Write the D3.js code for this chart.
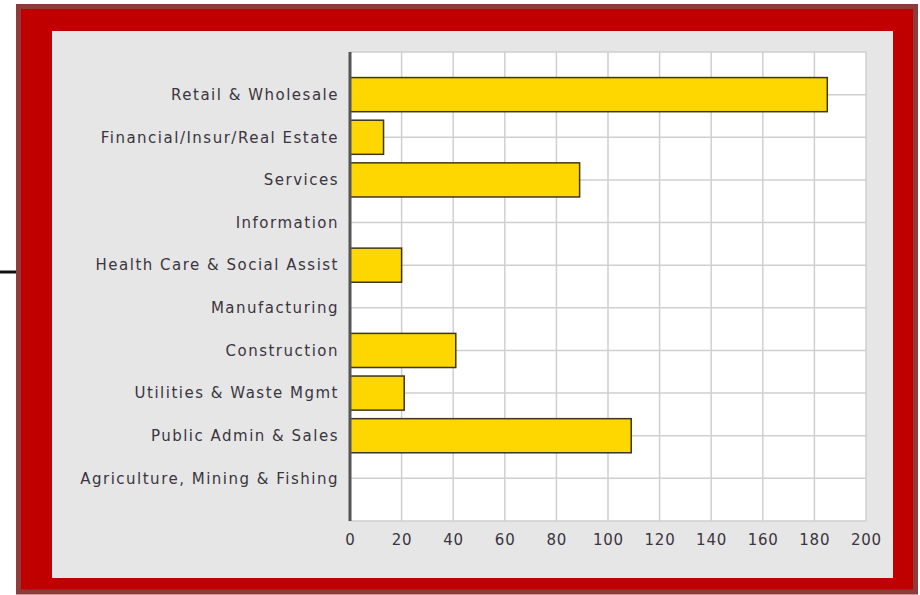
<!DOCTYPE html>
<html>
<head>
<meta charset="utf-8">
<script src="https://cdn.jsdelivr.net/npm/d3@7"></script>
<style>
  body { margin: 0; background: #fff; }
  text { font-family: "DejaVu Sans", Verdana, sans-serif; }
</style>
</head>
<body>
<script>
// data
const categories = [
  "Retail & Wholesale",
  "Financial/Insur/Real Estate",
  "Services",
  "Information",
  "Health Care & Social Assist",
  "Manufacturing",
  "Construction",
  "Utilities & Waste Mgmt",
  "Public Admin & Sales",
  "Agriculture, Mining & Fishing"
];
const values = [185, 13, 89, 0, 20, 0, 41, 21, 109, 0];
const xTicks = [0, 20, 40, 60, 80, 100, 120, 140, 160, 180, 200];

const width = 920, height = 595;
const plot = {left: 350, right: 866, top: 52, bottom: 521};

const svg = d3.select("body")
  .append("svg")
    .attr("width", width)
    .attr("height", height);

// frame
svg.append("line")
    .attr("x1", 0).attr("x2", 17)
    .attr("y1", 272).attr("y2", 272)
    .attr("stroke", "#111")
    .attr("stroke-width", 3);
svg.append("rect")
    .attr("x", 18.5).attr("y", 6.5)
    .attr("width", 897).attr("height", 585.5)
    .attr("fill", "#c00000")
    .attr("stroke", "#8e3b3b")
    .attr("stroke-width", 5);
svg.append("rect")
    .attr("x", 52).attr("y", 31)
    .attr("width", 841).attr("height", 547)
    .attr("fill", "#e6e6e6");

const x = d3.scaleLinear()
  .domain([0, 200])
  .range([plot.left, plot.right]);

const y = d3.scalePoint()
  .domain(categories)
  .range([plot.top, plot.bottom])
  .padding(1);

const barH = y.step() * 0.8;

// plot background
svg.append("rect")
    .attr("x", plot.left).attr("y", plot.top)
    .attr("width", plot.right - plot.left)
    .attr("height", plot.bottom - plot.top)
    .attr("fill", "#fff");

// grid
const grid = svg.append("g")
    .attr("stroke", "#cfcfcf")
    .attr("stroke-width", 1.5);
grid.selectAll("line.v")
  .data(xTicks)
  .join("line")
    .attr("class", "v")
    .attr("x1", d => x(d)).attr("x2", d => x(d))
    .attr("y1", plot.top).attr("y2", plot.bottom);
grid.selectAll("line.h")
  .data(categories)
  .join("line")
    .attr("class", "h")
    .attr("x1", plot.left).attr("x2", plot.right)
    .attr("y1", d => y(d)).attr("y2", d => y(d));
grid.append("line")
    .attr("x1", plot.left).attr("x2", plot.right)
    .attr("y1", plot.top).attr("y2", plot.top);
grid.append("line")
    .attr("x1", plot.left).attr("x2", plot.right)
    .attr("y1", plot.bottom).attr("y2", plot.bottom);

// bars
svg.append("g")
  .selectAll("rect")
  .data(categories)
  .join("rect")
    .attr("x", x(0))
    .attr("y", d => y(d) - barH / 2)
    .attr("width", (d, i) => x(values[i]) - x(0))
    .attr("height", barH)
    .attr("fill", "#ffd700")
    .attr("stroke", "#3d3522")
    .attr("stroke-width", 1.5);

// y axis line
svg.append("line")
    .attr("x1", plot.left).attr("x2", plot.left)
    .attr("y1", plot.top).attr("y2", plot.bottom)
    .attr("stroke", "#555")
    .attr("stroke-width", 3);

// category labels (letter-spacing widens DejaVu toward Verdana)
svg.append("g")
    .style("font-size", "15px")
    .style("letter-spacing", "1.5px")
    .attr("fill", "#3a3540")
  .selectAll("text")
  .data(categories)
  .join("text")
    .attr("x", plot.left - 11)
    .attr("y", d => y(d))
    .attr("dy", "0.35em")
    .attr("text-anchor", "end")
    .text(d => d);

// x tick labels
svg.append("g")
    .style("font-size", "15px")
    .style("letter-spacing", "0.8px")
    .attr("fill", "#3a3540")
  .selectAll("text")
  .data(xTicks)
  .join("text")
    .attr("x", d => x(d) + 0.4)
    .attr("y", 540)
    .attr("dy", "0.35em")
    .attr("text-anchor", "middle")
    .text(d => d);
</script>
</body>
</html>
